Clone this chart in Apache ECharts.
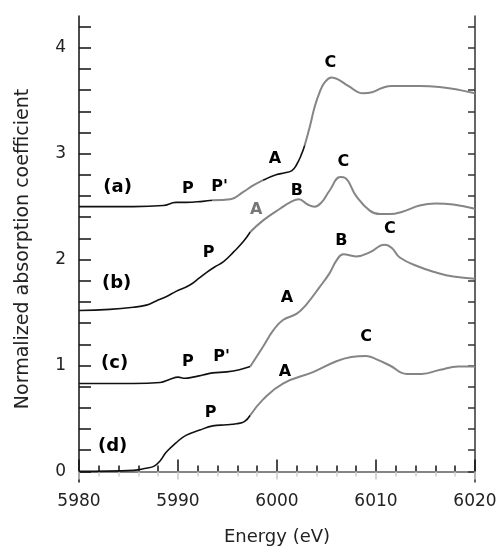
<!DOCTYPE html>
<html>
<head>
<meta charset="utf-8">
<script src="https://cdn.jsdelivr.net/npm/echarts@6/dist/echarts.min.js"></script>
<style>
  html, body { margin: 0; padding: 0; background: #fff; }
  #chart { width: 501px; height: 551px; }
</style>
</head>
<body>
<div id="chart"></div>
<script>
// spectra (energy in eV, normalized absorption)
const energyA = [5980, 5985.5, 5988.5, 5989.8, 5990.8, 5992.5, 5993.5, 5995.3, 5996.6, 5997.6, 5998.6, 5999.9, 6000.8, 6001.5, 6002.0, 6002.5, 6002.8, 6003.3, 6003.8, 6004.3, 6004.8, 6005.5, 6006.2, 6007.2, 6008.7, 6009.6, 6010.6, 6011.6, 6014.4, 6016.4, 6018.5, 6020]
const muA = [2.50, 2.50, 2.51, 2.54, 2.54, 2.55, 2.56, 2.57, 2.64, 2.70, 2.75, 2.80, 2.82, 2.84, 2.90, 3.00, 3.08, 3.25, 3.44, 3.58, 3.67, 3.72, 3.70, 3.64, 3.57, 3.58, 3.62, 3.64, 3.64, 3.63, 3.60, 3.57]

const energyB = [5980, 5983.1, 5985.5, 5986.8, 5987.8, 5988.8, 5989.8, 5991.2, 5992.2, 5992.9, 5993.7, 5994.6, 5995.6, 5996.6, 5997.3, 5998.6, 6000.3, 6001.5, 6002.2, 6003.1, 6003.8, 6004.5, 6005.3, 6006.4, 6006.9, 6008.0, 6009.4, 6010.4, 6011.4, 6012.6, 6014.4, 6016.0, 6017.8, 6020]
const muB = [1.52, 1.53, 1.55, 1.57, 1.61, 1.65, 1.70, 1.76, 1.83, 1.88, 1.93, 1.98, 2.07, 2.17, 2.26, 2.37, 2.48, 2.55, 2.57, 2.52, 2.50, 2.54, 2.65, 2.78, 2.77, 2.60, 2.46, 2.43, 2.43, 2.45, 2.51, 2.53, 2.52, 2.48]

const energyC = [5980, 5985.5, 5988.2, 5989.2, 5990.0, 5990.7, 5991.5, 5992.5, 5993.5, 5994.9, 5996.2, 5997.3, 5998.6, 5999.6, 6000.6, 6002.0, 6003.0, 6004.3, 6005.3, 6006.0, 6006.7, 6008.0, 6009.4, 6010.4, 6010.9, 6011.6, 6012.4, 6014.4, 6016.0, 6017.8, 6020]
const muC = [0.83, 0.83, 0.84, 0.87, 0.89, 0.88, 0.89, 0.91, 0.93, 0.94, 0.96, 0.99, 1.18, 1.33, 1.43, 1.49, 1.58, 1.74, 1.87, 1.99, 2.05, 2.03, 2.07, 2.13, 2.14, 2.11, 2.02, 1.93, 1.88, 1.84, 1.82]

const energyD = [5980, 5985.5, 5986.8, 5987.6, 5988.2, 5988.8, 5989.8, 5990.8, 5992.2, 5993.5, 5994.9, 5995.9, 5996.7, 5997.3, 5998.6, 6000.6, 6003.7, 6006.0, 6007.5, 6009.0, 6010.0, 6011.4, 6013.1, 6014.6, 6016.5, 6018.3, 6020]
const muD = [0.00, 0.01, 0.03, 0.05, 0.10, 0.18, 0.27, 0.34, 0.39, 0.43, 0.44, 0.45, 0.47, 0.53, 0.68, 0.83, 0.94, 1.04, 1.08, 1.09, 1.06, 1.00, 0.92, 0.92, 0.96, 0.99, 0.99]

// where the printed trace switches between black and grey
const breaksA = [5993.5, 5998.6, 6002.8]
const breaksBCD = [5997.3]

// peak labels
const noteText = ['(a)', 'P', "P'", 'A', 'C', '(b)', 'P', 'A', 'B', 'C', '(c)', 'P', "P'", 'A', 'B', 'C', '(d)', 'P', 'A', 'C']
const noteX = [5983.9, 5991.0, 5994.2, 5999.8, 6005.4, 5983.8, 5993.1, 5997.9, 6002.0, 6006.7, 5983.6, 5991.0, 5994.4, 6001.0, 6006.5, 6011.4, 5983.4, 5993.3, 6000.8, 6009.0]
const noteY = [2.68, 2.67, 2.69, 2.95, 3.86, 1.78, 2.06, 2.47, 2.65, 2.92, 1.02, 1.03, 1.08, 1.64, 2.18, 2.29, 0.24, 0.55, 0.94, 1.27]

const yTicks = [0, 0.2, 0.4, 0.6, 0.8, 1, 1.2, 1.4, 1.6, 1.8, 2, 2.2, 2.4, 2.6, 2.8, 3, 3.2, 3.4, 3.6, 3.8, 4, 4.2]
const yLabels = [0, 1, 2, 3, 4]

const BLACK = '#111'
const GRAY = '#858585'
const font = 'DejaVu Sans'

const chart = echarts.init(document.getElementById('chart'))

// cut one trace into black / grey pieces at the break energies (breaks are data points)
function pieces(name, xs, ys, breaks) {
  const edges = [xs[0]].concat(breaks, [xs[xs.length - 1]])
  const out = []
  for (let k = 0; k < edges.length - 1; k++) {
    const lo = edges[k]
    const hi = edges[k + 1]
    const pts = []
    xs.forEach((x, i) => {
      if (x >= lo && x <= hi) pts.push([x, ys[i]])
    })
    out.push({
      name: name,
      type: 'line',
      data: pts,
      showSymbol: false,
      smooth: 0.45,
      silent: true,
      lineStyle: { width: k % 2 ? 2 : 1.6, color: k % 2 ? GRAY : BLACK },
      z: 3
    })
  }
  return out
}

const notes = noteText.map((t, i) => {
  const small = t.charAt(0) === '('
  return {
    value: [noteX[i], noteY[i]],
    name: t,
    label: { fontSize: small ? 18 : 16, color: (i === 7) ? '#777' : '#000' }
  }
})

chart.setOption({
  animation: false,
  grid: { left: 79, right: 26, top: 16, bottom: 68 },
  xAxis: [
    {
      type: 'value',
      min: 5980,
      max: 6020,
      interval: 10,
      name: 'Energy (eV)',
      nameLocation: 'middle',
      nameGap: 46,
      nameTextStyle: { fontFamily: font, fontSize: 18, color: '#222' },
      axisLine: { lineStyle: { color: BLACK, width: 1.5 } },
      axisTick: { inside: true, length: 12, lineStyle: { color: BLACK, width: 1.5 } },
      minorTick: { show: true, splitNumber: 5, length: 6, lineStyle: { color: BLACK, width: 1.5 } },
      axisLabel: { fontFamily: font, fontSize: 17, color: '#222', margin: 11, formatter: v => String(v) },
      splitLine: { show: false }
    },
    {
      type: 'value',
      position: 'top',
      min: 5980,
      max: 6020,
      interval: 10,
      axisLine: { lineStyle: { color: '#999', width: 1.5 } },
      axisTick: { inside: true, length: 8, lineStyle: { color: '#c8c8c8', width: 1.5 } },
      minorTick: { show: true, splitNumber: 5, length: 5, lineStyle: { color: '#d0d0d0', width: 1.5 } },
      axisLabel: { show: false },
      splitLine: { show: false }
    }
  ],
  yAxis: [
    {
      type: 'value',
      min: -0.1,
      max: 4.3,
      name: 'Normalized absorption coefficient',
      nameLocation: 'middle',
      nameGap: 46,
      nameTextStyle: { fontFamily: font, fontSize: 19, color: '#222' },
      axisLine: { show: true, lineStyle: { color: BLACK, width: 1.5 } },
      axisTick: { show: true, inside: true, length: 12, customValues: yTicks, lineStyle: { color: BLACK, width: 1.5 } },
      axisLabel: { fontFamily: font, fontSize: 17, color: '#222', margin: 13, customValues: yLabels },
      splitLine: { show: false }
    },
    {
      type: 'value',
      position: 'right',
      min: -0.1,
      max: 4.3,
      axisLine: { show: true, lineStyle: { color: '#333', width: 1.5 } },
      axisTick: { show: true, inside: true, length: 7, customValues: yTicks, lineStyle: { color: '#333', width: 1.5 } },
      axisLabel: { show: false },
      splitLine: { show: false }
    }
  ],
  series: [].concat(
    pieces('(a)', energyA, muA, breaksA),
    pieces('(b)', energyB, muB, breaksBCD),
    pieces('(c)', energyC, muC, breaksBCD),
    pieces('(d)', energyD, muD, breaksBCD),
    [{
      type: 'scatter',
      symbolSize: 0,
      silent: true,
      data: notes,
      itemStyle: { color: '#000', opacity: 1 },
      label: {
        show: true,
        position: 'inside',
        formatter: p => p.name,
        fontFamily: font,
        fontWeight: 'bold',
        color: '#000',
        textBorderWidth: 0,
        opacity: 1
      },
      z: 5
    }]
  )
})
</script>
</body>
</html>
